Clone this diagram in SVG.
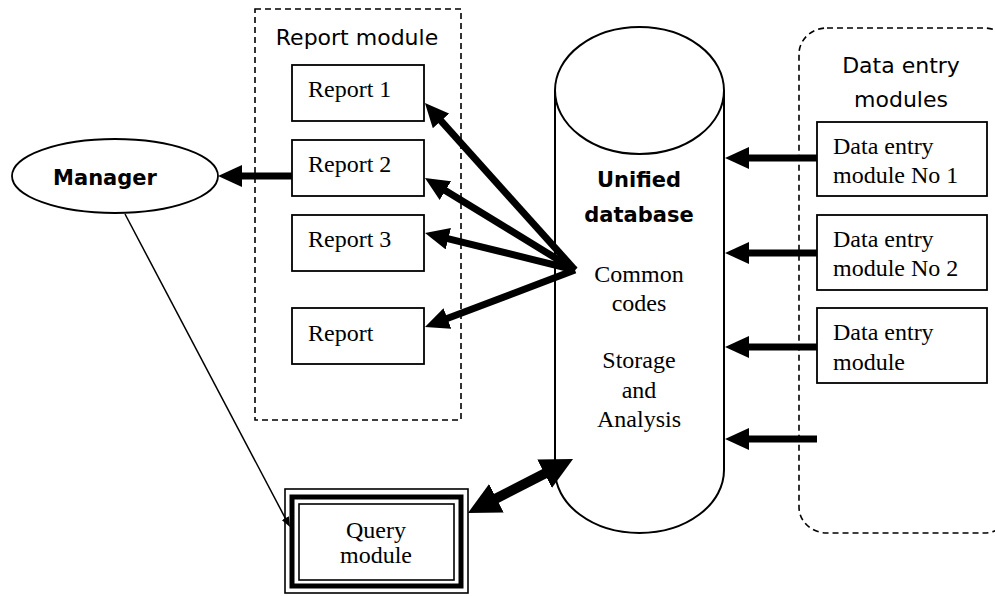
<svg xmlns="http://www.w3.org/2000/svg" width="995" height="596" viewBox="0 0 995 596">
<style>
.box{fill:#fff;stroke:#000;stroke-width:1.8}
.dash{fill:none;stroke:#000;stroke-width:1.6;stroke-dasharray:6 4}
.tr{font-family:"Liberation Serif","Times New Roman",serif;font-size:24px;fill:#000}
.cs{font-family:"DejaVu Sans",sans-serif;font-size:22px;fill:#000}
.csb{font-family:"DejaVu Sans",sans-serif;font-size:21px;font-weight:bold;fill:#000}
.thick{stroke:#000;stroke-width:7;fill:none}
.thin{stroke:#000;stroke-width:1.5;fill:none}
.mid{text-anchor:middle}
</style>
<defs>
<marker id="ah" markerUnits="userSpaceOnUse" markerWidth="24" markerHeight="22" viewBox="0 0 24 22" refX="6" refY="11" orient="auto"><path d="M0,0 L24,11 L0,22 z" fill="#000"/></marker>
<marker id="ahb" markerUnits="userSpaceOnUse" markerWidth="32" markerHeight="32" viewBox="0 0 32 32" refX="8" refY="16" orient="auto-start-reverse"><path d="M0,0 L32,16 L0,32 z" fill="#000"/></marker>
<marker id="ahs" markerUnits="userSpaceOnUse" markerWidth="10" markerHeight="8" viewBox="0 0 10 8" refX="3" refY="4" orient="auto"><path d="M0,0 L10,4 L0,8 z" fill="#000"/></marker>
</defs>

<g id="report-module">
<rect class="dash" x="255" y="9" width="206" height="411"/>
<text class="cs mid" x="357" y="45">Report module</text>
</g>
<g id="report1"><rect class="box" x="292" y="65" width="132" height="56"/><text class="tr" x="308" y="97">Report 1</text></g>
<g id="report2"><rect class="box" x="292" y="140" width="132" height="56"/><text class="tr" x="308" y="172">Report 2</text></g>
<g id="report3"><rect class="box" x="292" y="215" width="132" height="56"/><text class="tr" x="308" y="247">Report 3</text></g>
<g id="report4"><rect class="box" x="292" y="308" width="132" height="56"/><text class="tr" x="308" y="341">Report</text></g>

<g id="manager">
<ellipse cx="115" cy="176" rx="103" ry="37" fill="#fff" stroke="#000" stroke-width="1.8"/>
<text class="csb mid" x="105" y="185">Manager</text>
</g>

<g id="database">
<path d="M555,90.5 L555,470 A84.5,63 0 0 0 724,470 L724,90.5" fill="#fff" stroke="#000" stroke-width="2"/>
<ellipse cx="639.5" cy="90.5" rx="84.5" ry="63.5" fill="#fff" stroke="#000" stroke-width="2"/>
<text class="csb mid" x="639" y="187">Unified</text>
<text class="csb mid" x="639" y="222">database</text>
<text class="tr mid" x="639" y="282">Common</text>
<text class="tr mid" x="639" y="311">codes</text>
<text class="tr mid" x="639" y="368">Storage</text>
<text class="tr mid" x="639" y="398">and</text>
<text class="tr mid" x="639" y="427">Analysis</text>
</g>

<g id="data-entry-modules">
<rect class="dash" x="799" y="28" width="213" height="505" rx="28" ry="26"/>
<text class="cs mid" x="901" y="73">Data entry</text>
<text class="cs mid" x="901" y="107">modules</text>
</g>
<g id="de1"><rect class="box" x="817" y="122" width="170" height="74"/><text class="tr" x="833" y="154">Data entry</text><text class="tr" x="833" y="183">module No 1</text></g>
<g id="de2"><rect class="box" x="817" y="215" width="170" height="75"/><text class="tr" x="833" y="247">Data entry</text><text class="tr" x="833" y="276">module No 2</text></g>
<g id="de3"><rect class="box" x="817" y="308" width="170" height="75"/><text class="tr" x="833" y="340">Data entry</text><text class="tr" x="833" y="370">module</text></g>

<g id="query-module">
<rect x="285" y="489" width="183" height="104" fill="#fff" stroke="#000" stroke-width="1.6"/>
<rect x="292" y="497" width="169" height="89" fill="none" stroke="#000" stroke-width="5"/>
<rect x="299" y="504" width="155" height="76" fill="none" stroke="#000" stroke-width="1.6"/>
<text class="tr mid" x="376" y="538">Query</text>
<text class="tr mid" x="376" y="563">module</text>
</g>

<g id="connectors">
<line class="thick" x1="575" y1="270" x2="437" y2="116.4" marker-end="url(#ah)"/>
<line class="thick" x1="575" y1="270" x2="440.3" y2="187.4" marker-end="url(#ah)"/>
<line class="thick" x1="575" y1="270" x2="442.5" y2="237.3" marker-end="url(#ah)"/>
<line class="thick" x1="575" y1="270" x2="441.8" y2="320.6" marker-end="url(#ah)"/>
<line class="thick" x1="292" y1="176" x2="236" y2="176" marker-end="url(#ah)"/>
<line class="thick" x1="817" y1="158" x2="743" y2="158" marker-end="url(#ah)"/>
<line class="thick" x1="817" y1="253" x2="743" y2="253" marker-end="url(#ah)"/>
<line class="thick" x1="817" y1="347" x2="743" y2="347" marker-end="url(#ah)"/>
<line class="thick" x1="817" y1="439" x2="743" y2="439" marker-end="url(#ah)"/>
<line stroke="#000" stroke-width="10" x1="489.3" y1="502" x2="551.7" y2="470" marker-start="url(#ahb)" marker-end="url(#ahb)"/>
<line class="thin" x1="125" y1="214" x2="286.7" y2="520.8" marker-end="url(#ahs)"/>
</g>
</svg>
